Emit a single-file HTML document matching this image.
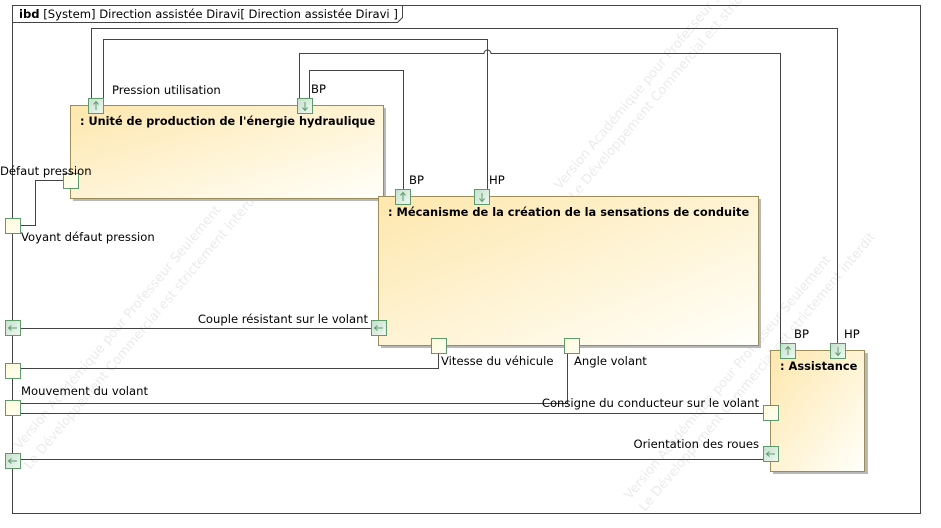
<!DOCTYPE html>
<html><head><meta charset="utf-8"><style>
html,body{margin:0;padding:0;background:#fff;}
svg{display:block;font-family:"DejaVu Sans","Liberation Sans",sans-serif;}
</style></head><body>
<svg width="941" height="528" viewBox="0 0 941 528" xmlns="http://www.w3.org/2000/svg">
<defs>
<linearGradient id="g" x1="0" y1="0" x2="1" y2="1">
<stop offset="0" stop-color="#fee7ad"/><stop offset="1" stop-color="#fffffa"/>
</linearGradient>
<linearGradient id="pg" x1="0" y1="0" x2="1" y2="1">
<stop offset="0" stop-color="#c4e0cc"/><stop offset="1" stop-color="#f0f8f2"/>
</linearGradient>
<linearGradient id="py" x1="0" y1="0" x2="1" y2="1">
<stop offset="0" stop-color="#fffbd8"/><stop offset="1" stop-color="#fffff4"/>
</linearGradient>
</defs>
<!-- watermarks -->
<g fill="#ebebeb" font-size="13">
<text transform="translate(560,190) rotate(-50)">Version Académique pour Professeur Seulement</text>
<text transform="translate(575,200) rotate(-50)">Le Développement Commercial est strictement interdit</text>
<text transform="translate(20,450) rotate(-50)">Version Académique pour Professeur Seulement</text>
<text transform="translate(30,470) rotate(-50)">Le Développement Commercial est strictement interdit</text>
<text transform="translate(630,500) rotate(-50)">Version Académique pour Professeur Seulement</text>
<text transform="translate(645,512) rotate(-50)">Le Développement Commercial est strictement interdit</text>
</g>
<!-- frame -->
<rect x="12.5" y="5.5" width="908" height="508" fill="none" stroke="#444" stroke-width="1"/>
<path d="M12.5 22.5 H397.5 L402.5 17.5 V5.5" fill="none" stroke="#444"/>
<text x="19" y="18" font-size="11.6" fill="#000"><tspan font-weight="bold">ibd</tspan> [System] Direction assistée Diravi[ Direction assistée Diravi ]</text>

<!-- blocks -->
<rect x="73" y="108" width="313" height="93" fill="#b8b8b8"/>
<rect x="70.5" y="105.5" width="313" height="93" fill="url(#g)" stroke="#9b8c5a"/>
<text x="80" y="125" font-size="11.3" font-weight="bold">: Unité de production de l'énergie hydraulique</text>

<rect x="381" y="199" width="380" height="149" fill="#b8b8b8"/>
<rect x="378.5" y="196.5" width="380" height="149" fill="url(#g)" stroke="#9b8c5a"/>
<text x="388" y="216" font-size="11.4" font-weight="bold">: Mécanisme de la création de la sensations de conduite</text>

<rect x="773" y="353" width="95" height="121" fill="#b8b8b8"/>
<rect x="770.5" y="350.5" width="94" height="121" fill="url(#g)" stroke="#9b8c5a"/>
<text x="780" y="370" font-size="11.4" font-weight="bold">: Assistance</text>

<!-- connectors -->
<g fill="none" stroke="#444" stroke-width="1">
<path d="M91.5 98 V28.5 H837.5 V343"/>
<path d="M103.5 98 V39.5 H487.5 V189"/>
<path d="M299.5 98 V53.5 H484 A3.5 3.5 0 0 1 491 53.5 H780.5 V343"/>
<path d="M309.5 98 V70.5 H403.5 V189"/>
<path d="M20 225.5 H35.5 V180.5 H63"/>
<path d="M20 328.5 H371"/>
<path d="M20 368.5 H438.5 V353"/>
<path d="M20 403.5 H567.5 V353"/>
<path d="M20 413.5 H763"/>
<path d="M20 459.5 H763"/>
</g>

<!-- ports -->
<g stroke="#5e9a6c" stroke-width="1">
<rect x="88.5" y="98.5" width="15" height="15" fill="url(#pg)"/>
<rect x="297.5" y="98.5" width="15" height="15" fill="url(#pg)"/>
<rect x="63.5" y="173.5" width="15" height="15" fill="url(#py)"/>
<rect x="395.5" y="189.5" width="15" height="15" fill="url(#pg)"/>
<rect x="474.5" y="189.5" width="15" height="15" fill="url(#pg)"/>
<rect x="371.5" y="320.5" width="15" height="15" fill="url(#pg)"/>
<rect x="431.5" y="338.5" width="15" height="15" fill="url(#py)"/>
<rect x="564.5" y="338.5" width="15" height="15" fill="url(#py)"/>
<rect x="780.5" y="343.5" width="15" height="15" fill="url(#pg)"/>
<rect x="830.5" y="343.5" width="15" height="15" fill="url(#pg)"/>
<rect x="763.5" y="405.5" width="15" height="15" fill="url(#py)"/>
<rect x="763.5" y="446.5" width="15" height="15" fill="url(#pg)"/>
<rect x="5.5" y="218.5" width="15" height="15" fill="url(#py)"/>
<rect x="5.5" y="320.5" width="15" height="15" fill="url(#pg)"/>
<rect x="5.5" y="363.5" width="15" height="15" fill="url(#py)"/>
<rect x="5.5" y="400.5" width="15" height="15" fill="url(#py)"/>
<rect x="5.5" y="453.5" width="15" height="15" fill="url(#pg)"/>
</g>
<!-- arrows -->
<g stroke="#5e9a6c" fill="none" stroke-width="1">
<path d="M96 110 V102 M93.5 104.5 L96 101.5 L98.5 104.5"/>
<path d="M403 201 V193 M400.5 195.5 L403 192.5 L405.5 195.5"/>
<path d="M788 355 V347 M785.5 349.5 L788 346.5 L790.5 349.5"/>
<path d="M305 102 V110 M302.5 107.5 L305 110.5 L307.5 107.5"/>
<path d="M482 193 V201 M479.5 198.5 L482 201.5 L484.5 198.5"/>
<path d="M838 347 V355 M835.5 352.5 L838 355.5 L840.5 352.5"/>
<path d="M383 328 H375 M377.5 325.5 L374.5 328 L377.5 330.5"/>
<path d="M17 328 H9 M11.5 325.5 L8.5 328 L11.5 330.5"/>
<path d="M17 461 H9 M11.5 458.5 L8.5 461 L11.5 463.5"/>
<path d="M775 454 H767 M769.5 451.5 L766.5 454 L769.5 456.5"/>
</g>

<!-- labels -->
<g font-size="11.6" fill="#000">
<text x="112" y="94">Pression utilisation</text>
<text x="311" y="93">BP</text>
<text x="0" y="175">Défaut pression</text>
<text x="409" y="184">BP</text>
<text x="489" y="184">HP</text>
<text x="21" y="241">Voyant défaut pression</text>
<text x="368" y="323" text-anchor="end">Couple résistant sur le volant</text>
<text x="441" y="365">Vitesse du véhicule</text>
<text x="574" y="365">Angle volant</text>
<text x="794" y="338">BP</text>
<text x="844" y="338">HP</text>
<text x="21" y="395">Mouvement du volant</text>
<text x="759" y="407" text-anchor="end">Consigne du conducteur sur le volant</text>
<text x="759" y="448" text-anchor="end">Orientation des roues</text>
</g>
</svg>
</body></html>
